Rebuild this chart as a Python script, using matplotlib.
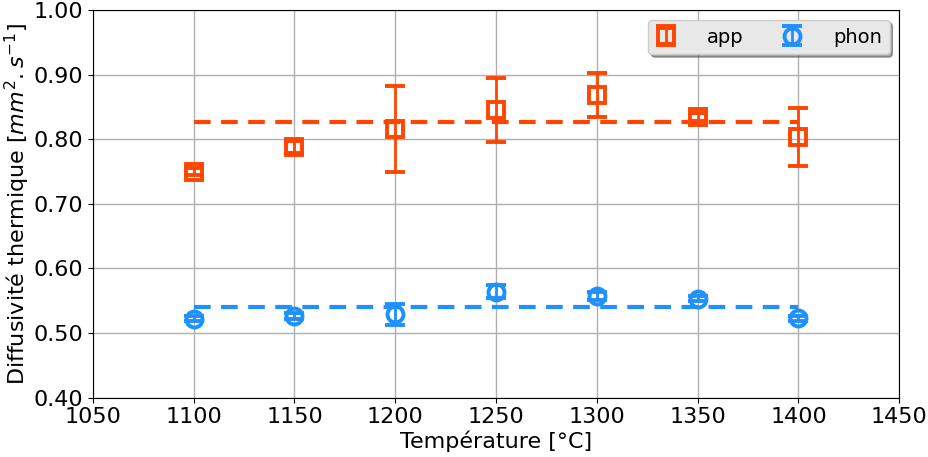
"""Diffusivité thermique apparente et phononique en fonction de la température."""
import numpy as np
import matplotlib
matplotlib.use("Agg")
import matplotlib.pyplot as plt

temperatures = [1100, 1150, 1200, 1250, 1300, 1350, 1400]

app_values = [0.750, 0.788, 0.816, 0.845, 0.868, 0.834, 0.804]
app_errors = [0.005, 0.010, 0.067, 0.050, 0.034, 0.006, 0.045]
app_mean = 0.826

phon_values = [0.522, 0.526, 0.529, 0.564, 0.557, 0.553, 0.523]
phon_errors = [0.004, 0.005, 0.016, 0.010, 0.006, 0.004, 0.004]
phon_mean = 0.541

plt.rcParams['font.size'] = 16

fig, ax = plt.subplots(figsize=(9.29, 4.57), dpi=100)

ax.errorbar(temperatures, app_values, yerr=app_errors, fmt='s', color='orangered',
            mfc='none', mew=2.8, ms=11.5, capsize=7, elinewidth=2, capthick=2,
            label='app', zorder=3)
ax.errorbar(temperatures, phon_values, yerr=phon_errors, fmt='o', color='dodgerblue',
            mfc='none', mew=2.8, ms=11.5, capsize=7, elinewidth=2, capthick=2,
            label='phon', zorder=3)

ax.plot([temperatures[0], temperatures[-1]], [app_mean, app_mean], '--',
        color='orangered', lw=3, dashes=(4, 2.5))
ax.plot([temperatures[0], temperatures[-1]], [phon_mean, phon_mean], '--',
        color='dodgerblue', lw=3, dashes=(4, 2.5))

ax.set_xlim(1050, 1450)
ax.set_ylim(0.4, 1.0)
ax.set_xticks(np.arange(1050, 1451, 50))
ax.set_yticks(np.arange(0.4, 1.01, 0.1))
ax.set_yticklabels(['%.2f' % v for v in np.arange(0.4, 1.01, 0.1)])
ax.set_xlabel('Température [°C]', labelpad=2)
ax.set_ylabel('Diffusivité thermique [$mm^2.s^{-1}$]', labelpad=1)
ax.grid(True, color='#b0b0b0', lw=1)
ax.set_axisbelow(True)

leg = ax.legend(loc='upper right', ncol=2, fancybox=True, shadow=True,
                fontsize=14, handlelength=1.0, handletextpad=1.6,
                columnspacing=2.0)
leg.get_frame().set_facecolor('#e8e8e8')

fig.subplots_adjust(left=0.1, right=0.968, top=0.978, bottom=0.13)
fig.savefig('out.png', dpi=100)
